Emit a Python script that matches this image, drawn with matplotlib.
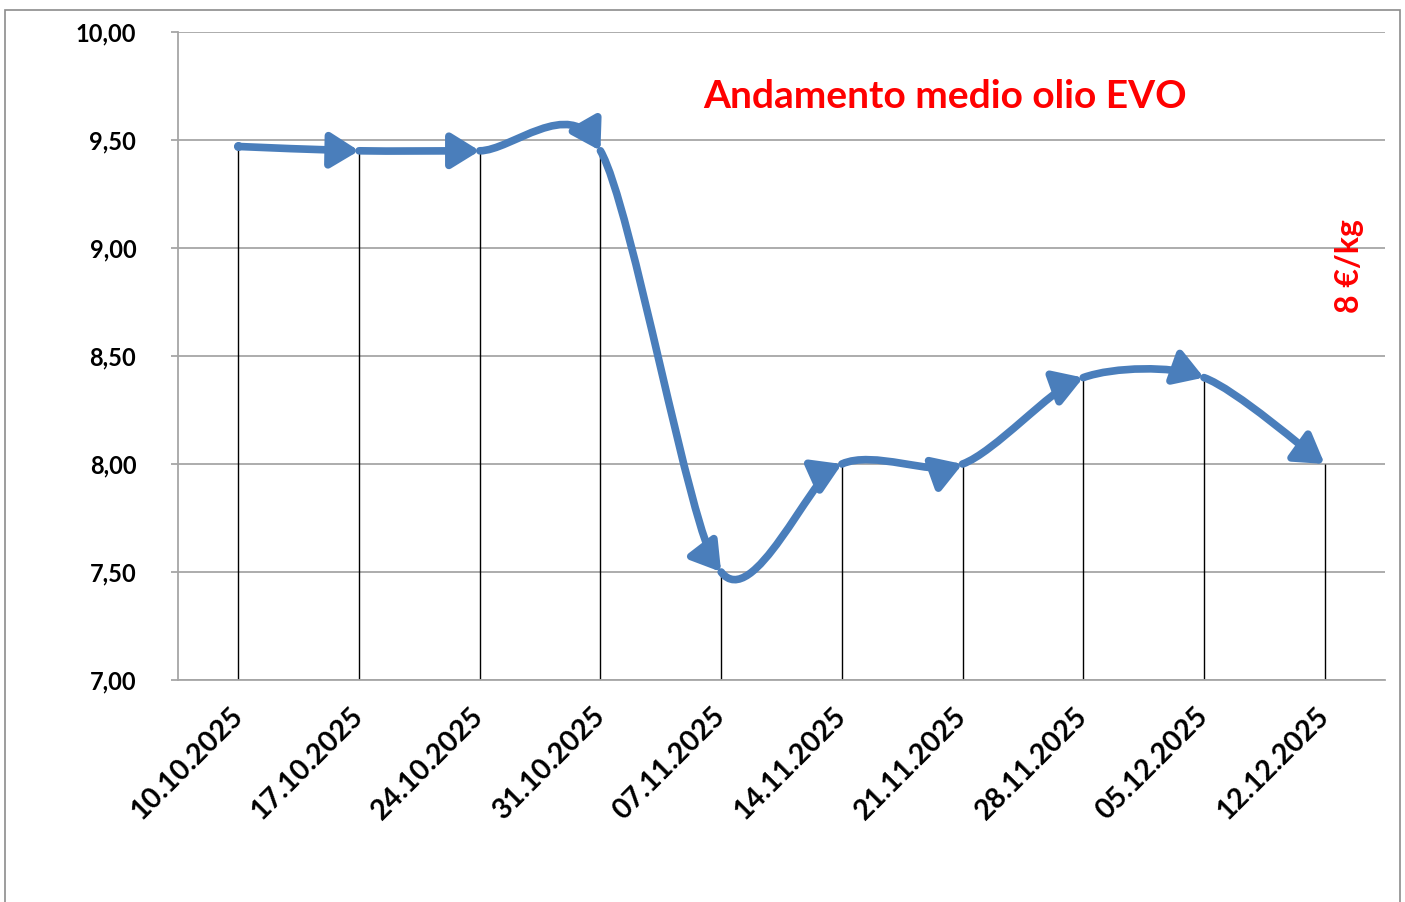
import matplotlib
matplotlib.use("Agg")
import matplotlib.pyplot as plt
from matplotlib.path import Path
from matplotlib.patches import FancyArrowPatch, Rectangle

plt.rcParams['font.family'] = ['Lato', 'DejaVu Sans']

# weekly average price of EVO oil (euro/kg)
dates = ["10.10.2025", "17.10.2025", "24.10.2025", "31.10.2025", "07.11.2025",
         "14.11.2025", "21.11.2025", "28.11.2025", "05.12.2025", "12.12.2025"]
prices = [9.47, 9.45, 9.45, 9.45, 7.50, 8.00, 8.00, 8.40, 8.40, 8.00]
y_ticks = [7.0, 7.5, 8.0, 8.5, 9.0, 9.5, 10.0]

blue = '#4a7ebb'
red = '#ff0000'

fig = plt.figure(figsize=(14.05, 9.02), dpi=100)
ax = fig.add_axes([178/1405, 1 - 680/902, 1207/1405, 648/902])

xs = [i + 0.5 for i in range(len(dates))]
ax.set_xlim(0, len(dates))
ax.set_ylim(7, 10)

# gridlines and axes
ax.set_yticks(y_ticks)
ax.set_yticklabels([f"{v:.2f}".replace('.', ',') for v in y_ticks],
                   fontsize=17, fontweight='bold')
ax.grid(axis='y', color='#a6a6a6', lw=1.3)
ax.set_axisbelow(True)
ax.tick_params(axis='y', length=5, width=1.3, color='#a6a6a6', pad=25)
ax.set_xticks(xs)
ax.set_xticklabels(dates, rotation=45, ha='right', va='center',
                   rotation_mode='anchor', fontsize=20.5, fontweight='bold')
ax.tick_params(axis='x', length=0, pad=23)
for s in ['top', 'right']:
    ax.spines[s].set_visible(False)
ax.spines['left'].set_color('#a6a6a6')
ax.spines['left'].set_linewidth(1.3)
ax.spines['bottom'].set_color('#a6a6a6')
ax.spines['bottom'].set_linewidth(1.3)

# drop lines from each point to the axis
ax.vlines(xs, 7, prices, color='black', lw=1.0, zorder=2)

# smoothed line, one arrow per segment (Catmull-Rom style like Excel)
k = 0.13
n = len(xs)
for i in range(n - 1):
    p0 = (xs[max(i - 1, 0)], prices[max(i - 1, 0)])
    p1 = (xs[i], prices[i])
    p2 = (xs[i + 1], prices[i + 1])
    p3 = (xs[min(i + 2, n - 1)], prices[min(i + 2, n - 1)])
    c1 = (p1[0] + (p2[0] - p0[0]) * k, p1[1] + (p2[1] - p0[1]) * k)
    c2 = (p2[0] - (p3[0] - p1[0]) * k, p2[1] - (p3[1] - p1[1]) * k)
    path = Path([p1, c1, c2, p2], [Path.MOVETO, Path.CURVE4, Path.CURVE4, Path.CURVE4])
    arr = FancyArrowPatch(path=path, transform=ax.transData,
                          arrowstyle='-|>,head_length=17,head_width=10.5',
                          mutation_scale=1, lw=5.5, color=blue, zorder=3)
    ax.add_patch(arr)
ax.plot(xs[0], prices[0], 'o', color=blue, ms=5.5, zorder=3)

# texts
fig.text(945/1405, 1 - 97/902, "Andamento medio olio EVO", color=red,
         fontsize=28, fontweight='bold', ha='center', va='center')
fig.text(1350/1405, 1 - 266/902, "8 €/kg", color=red, fontsize=23,
         fontweight='bold', rotation=90, ha='center', va='center')

# outer frame
fig.patches.append(Rectangle((5/1405, -0.05), 1395/1405, 1.05 - 10/902,
                             transform=fig.transFigure, fill=False,
                             edgecolor='#8c8c8c', lw=1.2))

fig.savefig("out.png", dpi=100)
